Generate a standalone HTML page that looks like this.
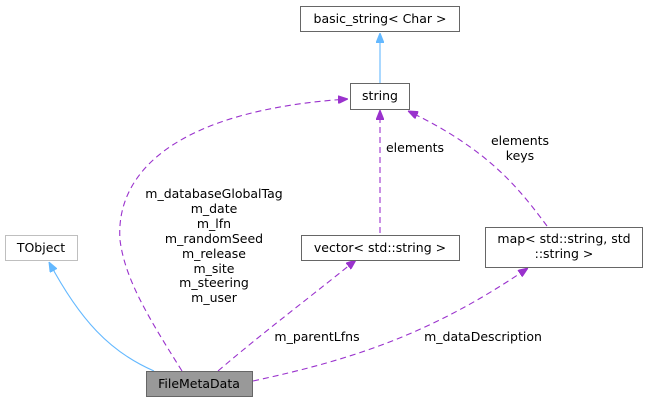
<!DOCTYPE html>
<html><head><meta charset="utf-8"><style>
html,body{margin:0;padding:0;background:#fff;}
svg{display:block;font-family:"DejaVu Sans","Liberation Sans",sans-serif;}
</style></head><body>
<svg width="645" height="400" viewBox="0 0 645 400" xmlns="http://www.w3.org/2000/svg">
<defs>
<marker id="pa" markerWidth="10" markerHeight="8" refX="10" refY="4" orient="auto" markerUnits="userSpaceOnUse"><path d="M0,0 L10,4 L0,8 Z" fill="#9a32cd" stroke="#9a32cd"/></marker>
<marker id="ba" markerWidth="10" markerHeight="8" refX="10" refY="4" orient="auto" markerUnits="userSpaceOnUse"><path d="M0,0 L10,4 L0,8 Z" fill="#63b8ff" stroke="#63b8ff"/></marker>
</defs>
<g fill="none" stroke-width="1.1">
<path d="M154,371 C110,352 80,320 49,262" stroke="#63b8ff" marker-end="url(#ba)"/>
<path d="M380,83 L380,33" stroke="#63b8ff" marker-end="url(#ba)"/>
<g stroke="#9a32cd" stroke-dasharray="6,4">
<path d="M182,371 C150,320 125,280 120,240 C115,170 180,110 348,99" marker-end="url(#pa)"/>
<path d="M380,233 L380,110" marker-end="url(#pa)"/>
<path d="M547,226 C520,190 490,150 408,111" marker-end="url(#pa)"/>
<path d="M218,371 C260,335 300,305 356,260" marker-end="url(#pa)"/>
<path d="M253,381 C350,360 430,335 528,268" marker-end="url(#pa)"/>
</g>
</g>
<g stroke-width="1">
<rect x="300.5" y="6.5" width="159" height="25" fill="#fff" stroke="#666"/>
<rect x="350.5" y="83.5" width="59" height="26" fill="#fff" stroke="#666"/>
<rect x="5.5" y="235.5" width="72" height="25" fill="#fff" stroke="#bfbfbf"/>
<rect x="301.5" y="235.5" width="158" height="25" fill="#fff" stroke="#666"/>
<rect x="485.5" y="227.5" width="157" height="40" fill="#fff" stroke="#666"/>
<rect x="146.5" y="371.5" width="106" height="25" fill="#999" stroke="#666"/>
</g>
<g font-size="12.5" fill="#000" text-anchor="middle">
<text x="380" y="23">basic_string&lt; Char &gt;</text>
<text x="380" y="100">string</text>
<text x="41" y="252">TObject</text>
<text x="380" y="252">vector&lt; std::string &gt;</text>
<text x="564" y="243">map&lt; std::string, std</text>
<text x="564" y="258">::string &gt;</text>
<text x="199" y="388">FileMetaData</text>
<text x="214" y="198">m_databaseGlobalTag</text>
<text x="214" y="213">m_date</text>
<text x="214" y="228">m_lfn</text>
<text x="214" y="243">m_randomSeed</text>
<text x="214" y="258">m_release</text>
<text x="214" y="273">m_site</text>
<text x="214" y="287">m_steering</text>
<text x="214" y="302">m_user</text>
<text x="415" y="152">elements</text>
<text x="520" y="145">elements</text>
<text x="520" y="160">keys</text>
<text x="317" y="341">m_parentLfns</text>
<text x="483" y="341">m_dataDescription</text>
</g>
</svg>
</body></html>
